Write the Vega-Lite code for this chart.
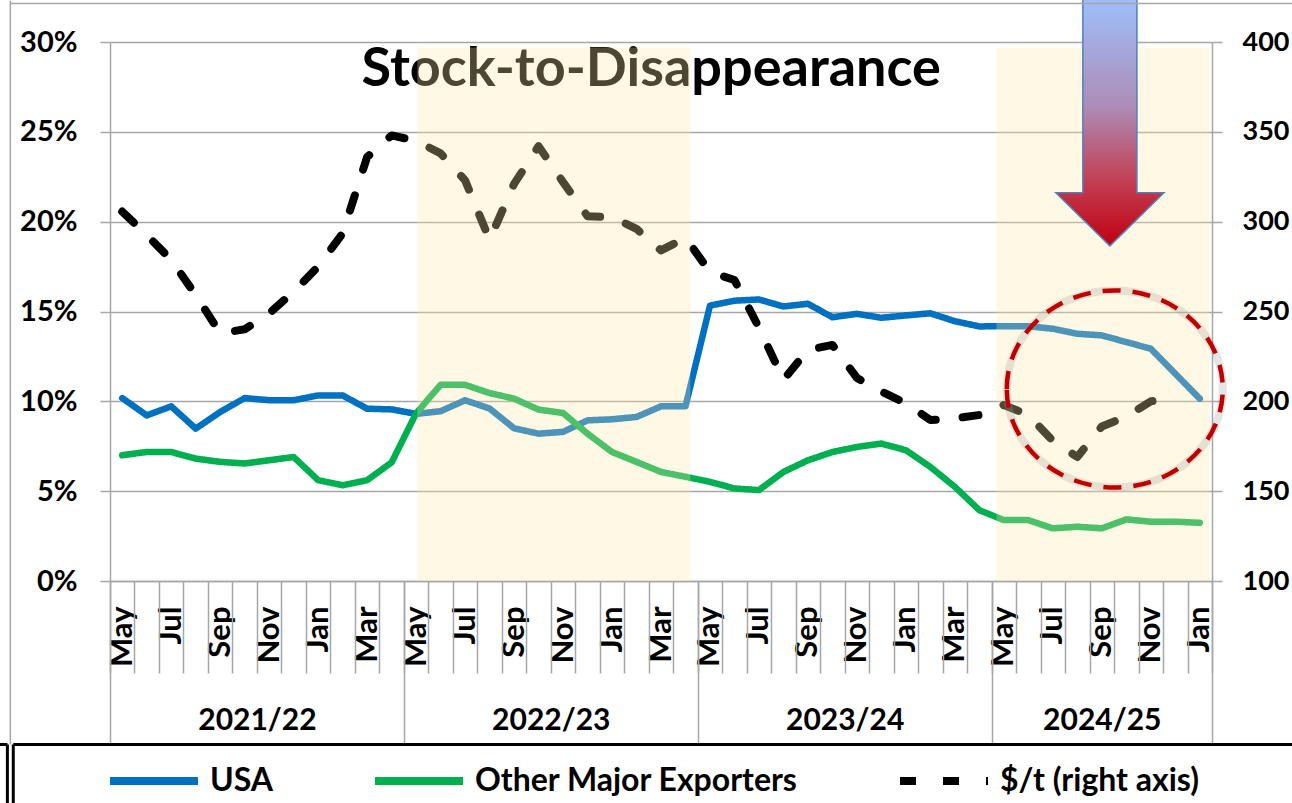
{
  "$schema": "https://vega.github.io/schema/vega-lite/v6.json",
  "width": 1102,
  "height": 539,
  "autosize": {"type": "none"},
  "padding": {"left": 110, "top": 42, "right": 80, "bottom": 222},
  "background": "white",
  "config": {"view": {"stroke": null}, "font": "Lato"},
  "datasets": {
    "monthly": [
      {"idx": 0, "USA": 10.18, "Other Major Exporters": 7.0, "$/t (right axis)": 305.6},
      {"idx": 1, "USA": 9.22, "Other Major Exporters": 7.18, "$/t (right axis)": 292.6},
      {"idx": 2, "USA": 9.72, "Other Major Exporters": 7.18, "$/t (right axis)": 278.7},
      {"idx": 3, "USA": 8.48, "Other Major Exporters": 6.81, "$/t (right axis)": 259.2},
      {"idx": 4, "USA": 9.41, "Other Major Exporters": 6.63, "$/t (right axis)": 237.9},
      {"idx": 5, "USA": 10.18, "Other Major Exporters": 6.54, "$/t (right axis)": 240.1},
      {"idx": 6, "USA": 10.06, "Other Major Exporters": 6.72, "$/t (right axis)": 249.0},
      {"idx": 7, "USA": 10.06, "Other Major Exporters": 6.9, "$/t (right axis)": 261.0},
      {"idx": 8, "USA": 10.33, "Other Major Exporters": 5.61, "$/t (right axis)": 275.0},
      {"idx": 9, "USA": 10.33, "Other Major Exporters": 5.33, "$/t (right axis)": 293.5},
      {"idx": 10, "USA": 9.59, "Other Major Exporters": 5.61, "$/t (right axis)": 336.0},
      {"idx": 11, "USA": 9.55, "Other Major Exporters": 6.6, "$/t (right axis)": 348.0},
      {"idx": 12, "USA": 9.3, "Other Major Exporters": 9.33, "$/t (right axis)": 345.0},
      {"idx": 13, "USA": 9.45, "Other Major Exporters": 10.92, "$/t (right axis)": 338.0},
      {"idx": 14, "USA": 10.06, "Other Major Exporters": 10.92, "$/t (right axis)": 323.0},
      {"idx": 15, "USA": 9.6, "Other Major Exporters": 10.46, "$/t (right axis)": 290.0},
      {"idx": 16, "USA": 8.5, "Other Major Exporters": 10.15, "$/t (right axis)": 321.0},
      {"idx": 17, "USA": 8.2, "Other Major Exporters": 9.54, "$/t (right axis)": 342.0},
      {"idx": 18, "USA": 8.3, "Other Major Exporters": 9.35, "$/t (right axis)": 322.0},
      {"idx": 19, "USA": 8.94, "Other Major Exporters": 8.2, "$/t (right axis)": 303.0},
      {"idx": 20, "USA": 9.0, "Other Major Exporters": 7.18, "$/t (right axis)": 302.5},
      {"idx": 21, "USA": 9.13, "Other Major Exporters": 6.63, "$/t (right axis)": 296.0},
      {"idx": 22, "USA": 9.72, "Other Major Exporters": 6.07, "$/t (right axis)": 284.0},
      {"idx": 23, "USA": 9.72, "Other Major Exporters": 5.8, "$/t (right axis)": 291.0},
      {"idx": 24, "USA": 15.33, "Other Major Exporters": 5.52, "$/t (right axis)": 272.0},
      {"idx": 25, "USA": 15.6, "Other Major Exporters": 5.15, "$/t (right axis)": 267.5},
      {"idx": 26, "USA": 15.67, "Other Major Exporters": 5.06, "$/t (right axis)": 241.0},
      {"idx": 27, "USA": 15.28, "Other Major Exporters": 6.07, "$/t (right axis)": 212.0},
      {"idx": 28, "USA": 15.43, "Other Major Exporters": 6.72, "$/t (right axis)": 228.6},
      {"idx": 29, "USA": 14.68, "Other Major Exporters": 7.18, "$/t (right axis)": 231.4},
      {"idx": 30, "USA": 14.87, "Other Major Exporters": 7.46, "$/t (right axis)": 213.0},
      {"idx": 31, "USA": 14.65, "Other Major Exporters": 7.65, "$/t (right axis)": 205.4},
      {"idx": 32, "USA": 14.78, "Other Major Exporters": 7.28, "$/t (right axis)": 199.0},
      {"idx": 33, "USA": 14.9, "Other Major Exporters": 6.35, "$/t (right axis)": 189.6},
      {"idx": 34, "USA": 14.46, "Other Major Exporters": 5.24, "$/t (right axis)": 190.5},
      {"idx": 35, "USA": 14.17, "Other Major Exporters": 3.94, "$/t (right axis)": 192.4},
      {"idx": 36, "USA": 14.18, "Other Major Exporters": 3.39, "$/t (right axis)": 198.0},
      {"idx": 37, "USA": 14.18, "Other Major Exporters": 3.39, "$/t (right axis)": 192.4},
      {"idx": 38, "USA": 14.04, "Other Major Exporters": 2.93, "$/t (right axis)": 178.0},
      {"idx": 39, "USA": 13.76, "Other Major Exporters": 3.02, "$/t (right axis)": 169.0},
      {"idx": 40, "USA": 13.67, "Other Major Exporters": 2.93, "$/t (right axis)": 186.0},
      {"idx": 41, "USA": 13.3, "Other Major Exporters": 3.43, "$/t (right axis)": 191.5},
      {"idx": 42, "USA": 12.93, "Other Major Exporters": 3.3, "$/t (right axis)": 200.0},
      {"idx": 43, "USA": 11.54, "Other Major Exporters": 3.3, "$/t (right axis)": 201.7},
      {"idx": 44, "USA": 10.15, "Other Major Exporters": 3.24}
    ]
  },
  "layer": [
    {
      "data": {"name": "monthly"},
      "transform": [{"fold": ["USA", "Other Major Exporters"], "as": ["series", "value"]}],
      "mark": {"type": "line", "strokeWidth": 6.5, "strokeCap": "round", "strokeJoin": "round"},
      "encoding": {
        "x": {
          "field": "idx", "type": "quantitative",
          "scale": {"domain": [-0.5, 44.5], "nice": false, "zero": false},
          "axis": {
            "orient": "bottom", "title": null,
            "values": [0, 2, 4, 6, 8, 10, 12, 14, 16, 18, 20, 22, 24, 26, 28, 30, 32, 34, 36, 38, 40, 42, 44],
            "labelExpr": "['May','Jun','Jul','Aug','Sep','Oct','Nov','Dec','Jan','Feb','Mar','Apr'][datum.value % 12]",
            "labelAngle": -90, "labelAlign": "right", "labelBaseline": "middle", "labelPadding": 25,
            "ticks": false, "grid": false, "domain": true, "domainColor": "#a6a6a6", "domainWidth": 1.5,
            "labelFont": "Lato", "labelFontSize": 31, "labelFontWeight": "bold", "labelColor": "black",
            "labelOverlap": false, "labelFlush": false, "labelBound": false
          }
        },
        "y": {
          "field": "value", "type": "quantitative",
          "scale": {"domain": [0, 30], "nice": false},
          "axis": {
            "orient": "left", "title": null, "values": [0, 5, 10, 15, 20, 25, 30],
            "labelExpr": "datum.value + '%'",
            "grid": true, "gridColor": "#a6a6a6", "gridWidth": 1.5,
            "tickSize": 10, "tickColor": "#a6a6a6", "tickWidth": 1.5,
            "domainColor": "#a6a6a6", "domainWidth": 1.5,
            "labelPadding": 23, "labelFont": "Lato", "labelFontSize": 29, "labelFontWeight": "bold",
            "labelColor": "black", "labelFlush": false, "labelOverlap": false
          }
        },
        "color": {
          "field": "series", "type": "nominal",
          "scale": {"domain": ["USA", "Other Major Exporters", "$/t (right axis)"], "range": ["#0070c0", "#00b050", "#000000"]},
          "legend": {
            "orient": "none", "legendX": -4, "legendY": 691, "direction": "horizontal", "title": null,
            "symbolType": "stroke", "symbolSize": 7744, "symbolStrokeWidth": 8,
            "labelFont": "Lato", "labelFontSize": 32, "labelFontWeight": "bold", "labelColor": "black",
            "labelOffset": 8, "columnPadding": 85, "padding": 0, "labelLimit": 600,
            "symbolLimit": 10
          }
        },
        "strokeDash": {
          "field": "series", "type": "nominal",
          "scale": {"domain": ["USA", "Other Major Exporters", "$/t (right axis)"], "range": [[1, 0], [1, 0], [16, 27]]}
        }
      }
    },
    {
      "data": {"name": "monthly"},
      "transform": [
        {"fold": ["$/t (right axis)"], "as": ["series", "value"]},
        {"filter": "datum.value != null"}
      ],
      "mark": {"type": "line", "strokeWidth": 8, "strokeCap": "round", "strokeJoin": "round"},
      "encoding": {
        "x": {
          "field": "idx", "type": "quantitative",
          "scale": {"domain": [-0.5, 44.5], "nice": false, "zero": false},
          "axis": {
            "orient": "bottom", "title": null,
            "values": [-0.5, 0.5, 1.5, 2.5, 3.5, 4.5, 5.5, 6.5, 7.5, 8.5, 9.5, 10.5, 11.5, 12.5, 13.5, 14.5, 15.5, 16.5, 17.5, 18.5, 19.5, 20.5, 21.5, 22.5, 23.5, 24.5, 25.5, 26.5, 27.5, 28.5, 29.5, 30.5, 31.5, 32.5, 33.5, 34.5, 35.5, 36.5, 37.5, 38.5, 39.5, 40.5, 41.5, 42.5, 43.5, 44.5],
            "tickSize": 92, "tickColor": "#a6a6a6", "tickWidth": 1.5,
            "labels": false, "domain": false, "grid": false
          }
        },
        "y": {
          "field": "value", "type": "quantitative",
          "scale": {"domain": [100, 400], "nice": false, "zero": false},
          "axis": {
            "orient": "right", "title": null, "values": [100, 150, 200, 250, 300, 350, 400],
            "grid": false, "tickSize": 10, "tickColor": "#a6a6a6", "tickWidth": 1.5,
            "domainColor": "#a6a6a6", "domainWidth": 1.5,
            "labelPadding": 20, "labelFont": "Lato", "labelFontSize": 27, "labelFontWeight": "bold",
            "labelColor": "black", "labelFlush": false, "labelOverlap": false
          }
        },
        "color": {"field": "series", "type": "nominal"},
        "strokeDash": {"field": "series", "type": "nominal"}
      }
    },
    {
      "data": {"values": [{"x": 21.6, "y": 27.55, "label": "Stock-to-Disappearance"}]},
      "mark": {"type": "text", "font": "Lato", "fontSize": 54, "fontWeight": "bold", "align": "center", "baseline": "alphabetic", "color": "black"},
      "encoding": {
        "x": {
          "field": "x", "type": "quantitative",
          "scale": {"domain": [-0.5, 44.5], "nice": false, "zero": false},
          "axis": {
            "orient": "bottom", "title": null, "values": [-0.5, 11.5, 23.5, 35.5, 44.5],
            "tickSize": 164, "tickColor": "#a6a6a6", "tickWidth": 1.5,
            "labels": false, "domain": false, "grid": false
          }
        },
        "y": {"field": "y", "type": "quantitative", "scale": {"domain": [0, 30], "nice": false}, "axis": null},
        "text": {"field": "label"}
      }
    },
    {
      "data": {"values": [
        {"season": "2022/23", "start": 12.05, "end": 23.2, "low": 0, "top": 29.7},
        {"season": "2024/25", "start": 35.7, "end": 44.4, "low": 0, "top": 29.7}
      ]},
      "mark": {"type": "rect", "fill": "#ffe9a7", "opacity": 0.3},
      "encoding": {
        "x": {
          "field": "start", "type": "quantitative",
          "scale": {"domain": [-0.5, 44.5], "nice": false, "zero": false},
          "axis": {
            "orient": "bottom", "title": null, "values": [5.5, 17.5, 29.5, 40],
            "labelExpr": "datum.value < 11 ? '2021/22' : datum.value < 23 ? '2022/23' : datum.value < 35 ? '2023/24' : '2024/25'",
            "ticks": false, "domain": false, "grid": false, "labelAngle": 0,
            "labelPadding": 124, "labelFont": "Lato", "labelFontSize": 30, "labelFontWeight": "bold",
            "labelColor": "black", "labelOverlap": false, "labelFlush": false, "labelBound": false
          }
        },
        "x2": {"field": "end"},
        "y": {"field": "low", "type": "quantitative", "scale": {"domain": [0, 30], "nice": false}, "axis": null},
        "y2": {"field": "top"}
      }
    },
    {
      "data": {"values": [{"x": 40.53, "y": 10.69}]},
      "mark": {"type": "point", "shape": "M -1 0 A 1 0.912 0 1 1 1 0 A 1 0.912 0 1 1 -1 0 Z", "size": 46656, "filled": false, "stroke": "#9a9a9a", "strokeWidth": 8, "opacity": 0.25},
      "encoding": {
        "x": {"field": "x", "type": "quantitative", "scale": {"domain": [-0.5, 44.5], "nice": false, "zero": false}, "axis": null},
        "y": {"field": "y", "type": "quantitative", "scale": {"domain": [0, 30], "nice": false}, "axis": null}
      }
    },
    {
      "data": {"values": [{"x": 40.53, "y": 10.69}]},
      "mark": {"type": "point", "shape": "M -1 0 A 1 0.912 0 1 1 1 0 A 1 0.912 0 1 1 -1 0 Z", "size": 46656, "filled": false, "stroke": "#c00000", "strokeWidth": 4.5, "strokeDash": [18, 12], "opacity": 1},
      "encoding": {
        "x": {"field": "x", "type": "quantitative", "scale": {"domain": [-0.5, 44.5], "nice": false, "zero": false}, "axis": null},
        "y": {"field": "y", "type": "quantitative", "scale": {"domain": [0, 30], "nice": false}, "axis": null}
      }
    },
    {
      "data": {"values": [{"x": 40.33, "y": 25.75}]},
      "mark": {
        "type": "point",
        "shape": "M -0.212 -1 L 0.212 -1 L 0.212 0.584 L 0.4235 0.584 L 0 1 L -0.4235 0.584 L -0.212 0.584 Z",
        "size": 65025, "filled": true, "opacity": 1,
        "fill": {"gradient": "linear", "x1": 0, "y1": 0, "x2": 0, "y2": 1, "stops": [
          {"offset": 0, "color": "#9dc3ff"},
          {"offset": 0.45, "color": "#ad8db8"},
          {"offset": 0.75, "color": "#c23e52"},
          {"offset": 1, "color": "#c00010"}
        ]},
        "stroke": "#4f81bd", "strokeWidth": 1.5
      },
      "encoding": {
        "x": {"field": "x", "type": "quantitative", "scale": {"domain": [-0.5, 44.5], "nice": false, "zero": false}, "axis": null},
        "y": {"field": "y", "type": "quantitative", "scale": {"domain": [0, 30], "nice": false}, "axis": null}
      }
    },
    {
      "data": {"values": [
        {"x": -4.45, "x2": 49, "y": -9.1, "y2": -9.1},
        {"x": -4.45, "x2": -4.45, "y": -9.1, "y2": -13},
        {"x": -4.69, "x2": -4.69, "y": -9.1, "y2": -13},
        {"x": -6, "x2": -4.69, "y": -9.1, "y2": -9.1}
      ]},
      "mark": {"type": "rule", "color": "black", "strokeWidth": 3},
      "encoding": {
        "x": {"field": "x", "type": "quantitative", "scale": {"domain": [-0.5, 44.5], "nice": false, "zero": false}, "axis": null},
        "x2": {"field": "x2"},
        "y": {"field": "y", "type": "quantitative", "scale": {"domain": [0, 30], "nice": false}, "axis": null},
        "y2": {"field": "y2"}
      }
    },
    {
      "data": {"values": [
        {"x": -4.57, "x2": -4.57, "y": 32.3, "y2": -9.1},
        {"x": -4.57, "x2": 49, "y": 32.14, "y2": 32.14}
      ]},
      "mark": {"type": "rule", "color": "#a6a6a6", "strokeWidth": 1.5},
      "encoding": {
        "x": {"field": "x", "type": "quantitative", "scale": {"domain": [-0.5, 44.5], "nice": false, "zero": false}, "axis": null},
        "x2": {"field": "x2"},
        "y": {"field": "y", "type": "quantitative", "scale": {"domain": [0, 30], "nice": false}, "axis": null},
        "y2": {"field": "y2"}
      }
    }
  ],
  "resolve": {
    "scale": {"y": "independent"},
    "axis": {"x": "independent", "y": "independent"}
  }
}
